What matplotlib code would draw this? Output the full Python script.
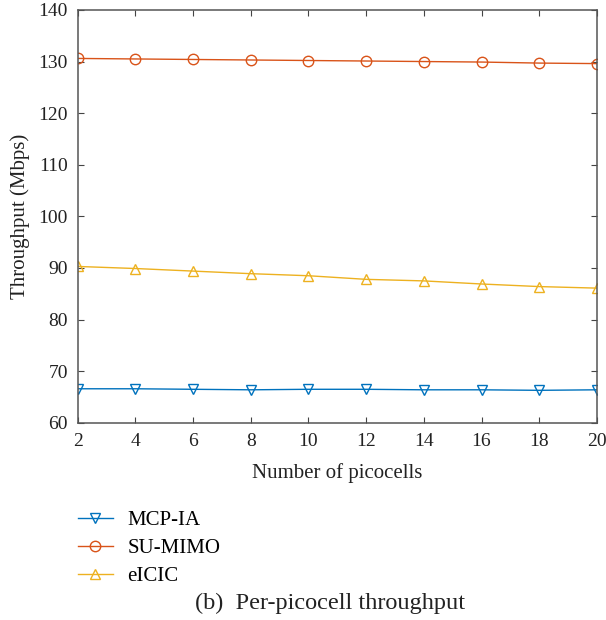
import numpy as np
import matplotlib.pyplot as plt

plt.rcParams['font.family'] = ['Liberation Serif', 'DejaVu Serif']

picocells = [2, 4, 6, 8, 10, 12, 14, 16, 18, 20]
mcp_ia = [66.6, 66.6, 66.5, 66.4, 66.5, 66.5, 66.4, 66.4, 66.3, 66.4]
su_mimo = [130.6, 130.5, 130.4, 130.3, 130.2, 130.1, 130.0, 129.9, 129.7, 129.6]
eicic = [90.3, 89.9, 89.4, 88.9, 88.5, 87.8, 87.5, 86.9, 86.4, 86.1]

fig = plt.figure(figsize=(6.06, 6.20), dpi=100)
ax = fig.add_axes([0.128, 0.318, 0.857, 0.666])

l1, = ax.plot(picocells, mcp_ia, color='#0072BD', marker='v', mfc='none', ms=7.5, lw=1, label='MCP-IA')
l2, = ax.plot(picocells, su_mimo, color='#D95319', marker='o', mfc='none', ms=7.5, lw=1, label='SU-MIMO')
l3, = ax.plot(picocells, eicic, color='#EDB120', marker='^', mfc='none', ms=7.5, lw=1, label='eICIC')

ax.set_xlim(2, 20)
ax.set_ylim(60, 140)
ax.set_xticks(np.arange(2, 21, 2))
ax.set_yticks(np.arange(60, 141, 10))
ax.tick_params(direction='in', top=True, right=True, labelsize=14, colors='#444444',
               labelcolor='#222222', length=4, pad=7)
for s in ax.spines.values():
    s.set_color('#555555')
    s.set_linewidth(1.1)
ax.set_xlabel('Number of picocells', fontsize=15, color='#222222', labelpad=10)
ax.set_ylabel('Throughput (Mbps)', fontsize=15, color='#222222', labelpad=6)

fig.legend(handles=[l1, l2, l3], loc='upper left', bbox_to_anchor=(0.128, 0.176),
           frameon=False, fontsize=15, handlelength=1.7, handletextpad=0.7,
           labelspacing=0.4, borderpad=0, borderaxespad=0)
fig.text(0.545, 0.027, '(b)  Per-picocell throughput', ha='center', va='center',
         fontsize=17.5, color='#222222')

fig.savefig('out.png', dpi=100)
